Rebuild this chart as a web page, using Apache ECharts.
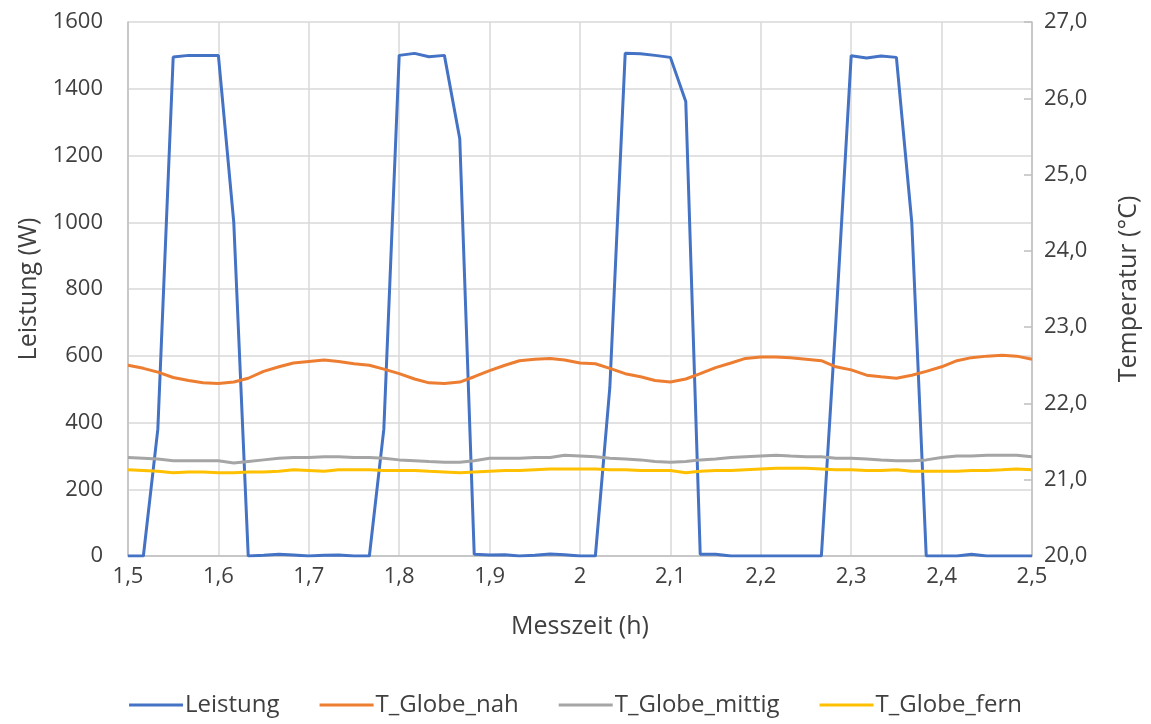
<!DOCTYPE html>
<html>
<head>
<meta charset="utf-8">
<title>Leistung und Globetemperaturen</title>
<script src="https://cdn.jsdelivr.net/npm/echarts@6/dist/echarts.min.js"></script>
<style>
    html, body {
        margin: 0;
        padding: 0;
        background: #fff;
    }
    #chart {
        width: 1151px;
        height: 724px;
    }
</style>
</head>
<body>
<div id="chart"></div>
<script>
// Messzeit in Stunden (1-Minuten-Raster)
const messzeit = [
    1.500, 1.517, 1.533, 1.550, 1.567, 1.583, 1.600, 1.617, 1.633, 1.650,
    1.667, 1.683, 1.700, 1.717, 1.733, 1.750, 1.767, 1.783, 1.800, 1.817,
    1.833, 1.850, 1.867, 1.883, 1.900, 1.917, 1.933, 1.950, 1.967, 1.983,
    2.000, 2.017, 2.033, 2.050, 2.067, 2.083, 2.100, 2.117, 2.133, 2.150,
    2.167, 2.183, 2.200, 2.217, 2.233, 2.250, 2.267, 2.283, 2.300, 2.317,
    2.333, 2.350, 2.367, 2.383, 2.400, 2.417, 2.433, 2.450, 2.467, 2.483,
    2.500
]
// Leistung (W)
const leistung = [
    0, 0, 380, 1495, 1500, 1500, 1500, 1000, 0, 2,
    5, 3, 0, 2, 3, 0, 0, 380, 1500, 1506,
    1496, 1500, 1250, 5, 3, 4, 0, 2, 6, 4,
    0, 0, 505, 1506, 1505, 1500, 1494, 1362, 5, 5,
    0, 0, 0, 0, 0, 0, 0, 700, 1499, 1492,
    1498, 1494, 1000, 0, 0, 0, 5, 0, 0, 0,
    0
]
// Temperaturen (°C)
const tGlobeNah = [
    22.50, 22.46, 22.41, 22.34, 22.30, 22.27, 22.26, 22.28, 22.33, 22.42,
    22.48, 22.53, 22.55, 22.57, 22.55, 22.52, 22.50, 22.45, 22.39, 22.32,
    22.27, 22.26, 22.28, 22.35, 22.43, 22.50, 22.56, 22.58, 22.59, 22.57,
    22.53, 22.52, 22.46, 22.39, 22.35, 22.30, 22.28, 22.32, 22.39, 22.47,
    22.53, 22.59, 22.61, 22.61, 22.60, 22.58, 22.56, 22.48, 22.44, 22.37,
    22.35, 22.33, 22.37, 22.42, 22.48, 22.56, 22.60, 22.62, 22.63, 22.62,
    22.58
]
const tGlobeMittig = [
    21.29, 21.28, 21.27, 21.25, 21.25, 21.25, 21.25, 21.22, 21.24, 21.26,
    21.28, 21.29, 21.29, 21.30, 21.30, 21.29, 21.29, 21.28, 21.26, 21.25,
    21.24, 21.23, 21.23, 21.25, 21.28, 21.28, 21.28, 21.29, 21.29, 21.32,
    21.31, 21.30, 21.28, 21.27, 21.26, 21.24, 21.23, 21.24, 21.26, 21.27,
    21.29, 21.30, 21.31, 21.32, 21.31, 21.30, 21.30, 21.28, 21.28, 21.27,
    21.26, 21.25, 21.25, 21.26, 21.29, 21.31, 21.31, 21.32, 21.32, 21.32,
    21.30
]
const tGlobeFern = [
    21.13, 21.12, 21.11, 21.09, 21.10, 21.10, 21.09, 21.09, 21.10, 21.10,
    21.11, 21.13, 21.12, 21.11, 21.13, 21.13, 21.13, 21.12, 21.12, 21.12,
    21.11, 21.10, 21.09, 21.10, 21.11, 21.12, 21.12, 21.13, 21.14, 21.14,
    21.14, 21.14, 21.13, 21.13, 21.12, 21.12, 21.12, 21.09, 21.11, 21.12,
    21.12, 21.13, 21.14, 21.15, 21.15, 21.15, 21.14, 21.13, 21.13, 21.12,
    21.12, 21.13, 21.11, 21.11, 21.11, 21.11, 21.12, 21.12, 21.13, 21.14,
    21.13
]

const fontFamily = '"Open Sans", "Noto Sans", sans-serif'
const textColor = '#404040'

const pairs = (ys) => messzeit.map((x, i) => [x, ys[i]])
const komma = (v, d) => (+v.toFixed(d)).toString().replace('.', ',')

const myChart = echarts.init(document.getElementById('chart'))

const option = {
    animation: false,
    color: ['#4472C4', '#ED7D31', '#A5A5A5', '#FFC000'],
    grid: {
        left: 128,
        right: 119,
        top: 22,
        bottom: 168
    },
    legend: {
        bottom: 2,
        left: 'center',
        icon: 'rect',
        itemWidth: 54,
        itemHeight: 3,
        itemGap: 40,
        textStyle: {
            fontFamily: fontFamily,
            fontSize: 24,
            color: textColor,
            padding: [0, 0, 0, -3]
        },
        data: ['Leistung', 'T_Globe_nah', 'T_Globe_mittig', 'T_Globe_fern']
    },
    xAxis: {
        type: 'value',
        min: 1.5,
        max: 2.5,
        interval: 0.1,
        name: 'Messzeit (h)',
        nameLocation: 'middle',
        nameGap: 58,
        nameTextStyle: { fontFamily: fontFamily, fontSize: 25, color: textColor },
        axisLine: { show: true, onZero: false, lineStyle: { color: '#BFBFBF', width: 1.5 } },
        axisTick: { show: false },
        axisLabel: {
            fontFamily: fontFamily,
            fontSize: 22,
            color: textColor,
            margin: 10,
            formatter: (v) => komma(v, 1)
        },
        splitLine: { show: true, lineStyle: { color: '#D9D9D9', width: 1.5 } }
    },
    yAxis: [
        {
            type: 'value',
            min: 0,
            max: 1600,
            interval: 200,
            name: 'Leistung (W)',
            nameLocation: 'middle',
            nameGap: 86,
            nameTextStyle: { fontFamily: fontFamily, fontSize: 25, color: textColor },
            axisLine: { show: true, lineStyle: { color: '#BFBFBF', width: 1.5 } },
            axisTick: { show: false },
            axisLabel: {
                fontFamily: fontFamily,
                fontSize: 22,
                color: textColor,
                margin: 25,
                formatter: (v) => String(v)
            },
            splitLine: { show: true, lineStyle: { color: '#D9D9D9', width: 1.5 } }
        },
        {
            type: 'value',
            min: 20,
            max: 27,
            interval: 1,
            name: 'Temperatur (°C)',
            nameLocation: 'middle',
            nameGap: 84,
            nameTextStyle: { fontFamily: fontFamily, fontSize: 25, color: textColor },
            axisLine: { show: true, lineStyle: { color: '#BFBFBF', width: 1.5 } },
            axisTick: { show: true, inside: true, length: 8, lineStyle: { color: '#BFBFBF', width: 1.5 } },
            axisLabel: {
                fontFamily: fontFamily,
                fontSize: 22,
                color: textColor,
                margin: 12,
                formatter: (v) => v.toFixed(1).replace('.', ',')
            },
            splitLine: { show: false }
        }
    ],
    series: [
        {
            name: 'Leistung',
            type: 'line',
            yAxisIndex: 0,
            showSymbol: false,
            lineStyle: { width: 3 },
            data: pairs(leistung)
        },
        {
            name: 'T_Globe_nah',
            type: 'line',
            yAxisIndex: 1,
            showSymbol: false,
            lineStyle: { width: 3 },
            data: pairs(tGlobeNah)
        },
        {
            name: 'T_Globe_mittig',
            type: 'line',
            yAxisIndex: 1,
            showSymbol: false,
            lineStyle: { width: 3 },
            data: pairs(tGlobeMittig)
        },
        {
            name: 'T_Globe_fern',
            type: 'line',
            yAxisIndex: 1,
            showSymbol: false,
            lineStyle: { width: 3 },
            data: pairs(tGlobeFern)
        }
    ]
}

myChart.setOption(option)
</script>
</body>
</html>
